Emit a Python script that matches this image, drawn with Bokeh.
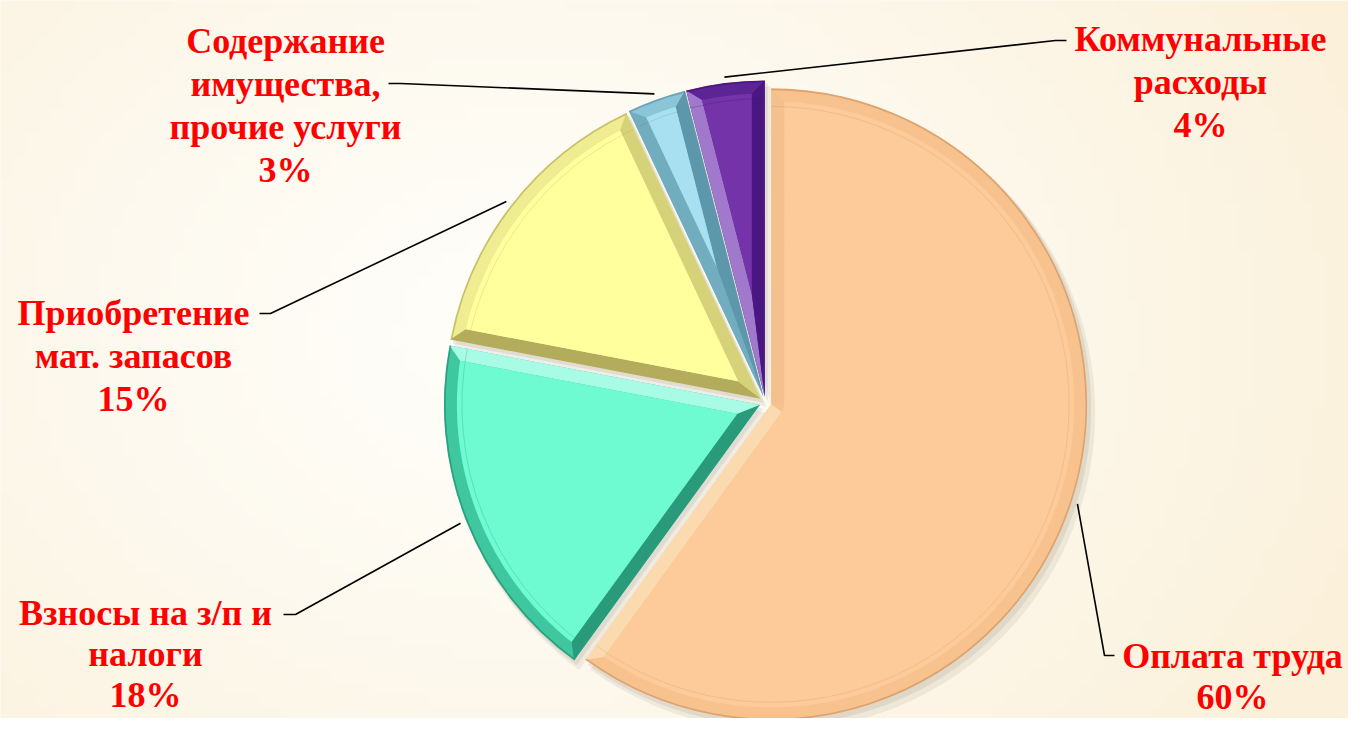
import numpy as np
from bokeh.plotting import figure
from bokeh.models import Range1d, ColumnDataSource
from bokeh.core.properties import value
from bokeh.embed import file_html
from bokeh.resources import INLINE

# ---------------- data ----------------
categories = ["Оплата труда", "Взносы на з/п и налоги", "Приобретение мат. запасов",
              "Содержание имущества, прочие услуги", "Коммунальные расходы"]
shares = [60, 18, 15, 3, 4]
label_lines = [["Оплата труда"],
               ["Взносы на з/п и", "налоги"],
               ["Приобретение", "мат. запасов"],
               ["Содержание", "имущества,", "прочие услуги"],
               ["Коммунальные", "расходы"]]

# ---------------- styles ----------------
face_colors = ["#FDCA99", "#6FFBD2", "#FFFF9E", "#A9E0F1", "#7433A8"]
rim_colors = ["#F8C28E", "#3FC8A0", "#F0EC92", "#8AC6D8", "#5C2494"]
start_edge_colors = ["#F3C08E", "#2A9B7A", "#B3AC5C", "#72ACBF", "#A078CC"]
end_edge_colors = ["#FCDAB0", "#A8FCE6", "#D6D27A", "#5C97AB", "#4A1782"]
arc_line_colors = ["#C99260", "#25896B", "#B0A955", "#5A8FA0", "#3E1270"]

# ---------------- layout (screen pixels of the picture) ----------------
PAGE_H = 734
W, H = 1348, 718
CX, CY = 765, 402
R = 316
EXPLODE = 6
BEVEL = 13
label_anchor = [(1232, 655), (145, 612), (133, 312), (285, 40), (1200, 38)]
label_step = [41, 41, 43, 43, 43]
leader_elbow = [(1104, 655), (295, 614), (270, 313), (400, 83), (1055, 40)]
leader_end_x = [1114, 283, 259, 388, 1066]


def Y(py):
    return PAGE_H - py


p = figure(width=W, height=H, x_range=Range1d(0, W), y_range=Range1d(PAGE_H - H, PAGE_H),
           x_axis_type=None, y_axis_type=None, toolbar_location=None, output_backend="svg",
           min_border=0, outline_line_color=None,
           background_fill_color="#FDF7EC", border_fill_color="#FDF7EC")

# subtle background gradient
ny, nx = 60, 110
gy, gx = np.mgrid[0:ny, 0:nx]
px = gx / (nx - 1) * W
py = (1 - gy / (ny - 1)) * H
dist = np.sqrt(((px - 520) / 1.0) ** 2 + ((py - 330) * 1.3) ** 2)
w = np.clip(dist / 900.0, 0, 1) ** 1.3
c0 = np.array([255, 254, 250])
c1 = np.array([251, 241, 219])
img = np.zeros((ny, nx), dtype=np.uint32)
view = img.view(dtype=np.uint8).reshape((ny, nx, 4))
for k in range(3):
    view[:, :, k] = (c0[k] * (1 - w) + c1[k] * w).astype(np.uint8)
view[:, :, 3] = 255
p.image_rgba(image=[img], x=0, y=PAGE_H - H, dw=W, dh=H)

# ---------------- pie geometry ----------------
vals = np.array(shares, dtype=float)
fr = vals / vals.sum()
ends = np.cumsum(fr) * 2 * np.pi
starts = ends - fr * 2 * np.pi
mids = (starts + ends) / 2

cxd, cyd = CX, Y(CY)
scx = cxd + EXPLODE * np.sin(mids)
scy = cyd + EXPLODE * np.cos(mids)

src = ColumnDataSource(dict(
    x=scx, y=scy, start=np.pi / 2 - ends, end=np.pi / 2 - starts,
    rim=rim_colors, arcc=arc_line_colors, cat=categories))

# shadows
p.wedge(x=scx + 6, y=scy - 8, radius=R + 2, start_angle=np.pi / 2 - ends, end_angle=np.pi / 2 - starts,
        fill_color="#8C8272", fill_alpha=0.12, line_color=None)
p.wedge(x=scx + 3, y=scy - 4, radius=R + 1, start_angle=np.pi / 2 - ends, end_angle=np.pi / 2 - starts,
        fill_color="#8C8272", fill_alpha=0.15, line_color=None)

# base (rim) wedges
p.wedge(x="x", y="y", radius=R, start_angle="start", end_angle="end",
        fill_color="rim", line_color=None, source=src)

bev_xs, bev_ys, bev_c = [], [], []
face_xs, face_ys = [], []
d = BEVEL
t = np.sqrt((R - d) ** 2 - d ** 2)
delta = np.arctan2(d, t)
for i in range(len(vals)):
    a0, a1, m = starts[i], ends[i], mids[i]
    h = (a1 - a0) / 2
    cx0, cy0 = scx[i], scy[i]
    arc_a = np.linspace(a0 + delta, a1 - delta, 120)
    ax = cx0 + (R - d) * np.sin(arc_a)
    ay = cy0 + (R - d) * np.cos(arc_a)
    if 2 * h <= np.pi:
        s = d / np.sin(h)
        apx = [cx0 + s * np.sin(m)]
        apy = [cy0 + s * np.cos(m)]
        ap_start = (apx[0], apy[0])
        ap_end = (apx[0], apy[0])
    else:
        ra = np.linspace(a1 - np.pi / 2, a0 + np.pi / 2, 20)
        apx = list(cx0 + d * np.sin(ra))
        apy = list(cy0 + d * np.cos(ra))
        ap_end = (apx[0], apy[0])
        ap_start = (apx[-1], apy[-1])
    face_xs.append(list(ax) + apx)
    face_ys.append(list(ay) + apy)
    bev_xs.append([cx0, cx0 + R * np.sin(a0), ax[0], ap_start[0]])
    bev_ys.append([cy0, cy0 + R * np.cos(a0), ay[0], ap_start[1]])
    bev_c.append(start_edge_colors[i])
    bev_xs.append([cx0, cx0 + R * np.sin(a1), ax[-1], ap_end[0]])
    bev_ys.append([cy0, cy0 + R * np.cos(a1), ay[-1], ap_end[1]])
    bev_c.append(end_edge_colors[i])

p.patches(xs=bev_xs, ys=bev_ys, fill_color=bev_c, line_color=None)
p.patches(xs=face_xs, ys=face_ys, fill_color=face_colors, line_color=None)

# outer arc darker edge and inner line
p.arc(x="x", y="y", radius=R - 1, start_angle="start", end_angle="end",
      line_color="arcc", line_width=1.6, line_alpha=0.65, source=src)
p.arc(x="x", y="y", radius=R - d - 5, start_angle="start", end_angle="end",
      line_color="arcc", line_width=1.0, line_alpha=0.25, source=src)

# ---------------- leader lines ----------------
lx, ly = [], []
for i in range(len(vals)):
    rr = R + EXPLODE + 6
    ix = cxd + rr * np.sin(mids[i])
    iy = cyd + rr * np.cos(mids[i])
    ex, ey = leader_elbow[i]
    lx.append([ix, ex, leader_end_x[i]])
    ly.append([iy, Y(ey), Y(ey)])
p.multi_line(xs=lx, ys=ly, line_color="#000000", line_width=1.6)

# ---------------- labels ----------------
tx, ty, tt = [], [], []
for i in range(len(vals)):
    lines = label_lines[i] + [f"{shares[i]}%"]
    x0, y0 = label_anchor[i]
    for k, s in enumerate(lines):
        tx.append(x0)
        ty.append(Y(y0 + k * label_step[i]))
        tt.append(s)
p.text(x=tx, y=ty, text=tt, text_font=value("Liberation Serif"), text_font_style="bold",
       text_font_size="36px", text_color="#FF0000", text_align="center", text_baseline="alphabetic")

open("out.html", "w").write(file_html(p, INLINE))
